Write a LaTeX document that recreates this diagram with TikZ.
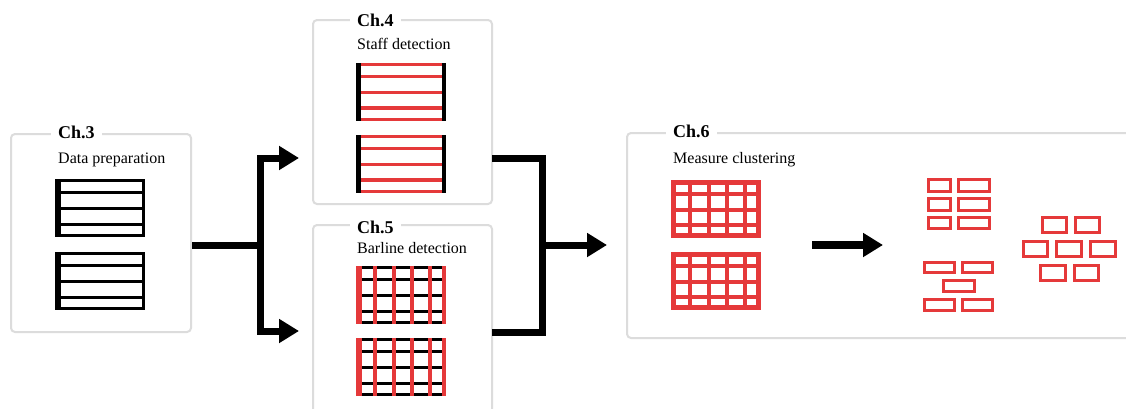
\documentclass[tikz,border=0pt]{standalone}
\usepackage{fontspec}
\setmainfont{Liberation Serif}
\usetikzlibrary{arrows.meta}
\definecolor{accent}{RGB}{229,57,58}
\definecolor{panelgray}{RGB}{220,220,220}
\tikzset{
  panel/.style={draw=panelgray, line width=2, rounded corners=4, inner sep=0, fill=none},
  chtitle/.style={anchor=base west, fill=white, inner xsep=7, inner ysep=2, font=\fontsize{18}{20}\selectfont\bfseries},
  chsub/.style={anchor=base west, inner sep=0, font=\fontsize{16}{18}\selectfont},
  conn/.style={line width=7, black},
  arr/.style={line width=7, black, -{Triangle[length=20pt,width=23pt]}},
  cell/.style={draw=accent, line width=3},
  staffblack/.pic={
    \foreach \yy in {1.5,13.5,29.5,45,56.5} \draw[line width=3] (0,\yy) -- (90,\yy);
    \fill (0,0) rectangle (6,58);
    \draw[line width=3] (88.5,0) -- (88.5,58);
  },
  staffred/.pic={
    \foreach \yy in {1.5,13.5,29.5,45,56.5} \draw[accent, line width=3.5] (0,\yy) -- (90,\yy);
    \fill (0,0) rectangle (5,58);
    \fill (86,0) rectangle (90,58);
  },
  barlinepic/.pic={
    \foreach \yy in {1.5,13.5,29.5,45,56.5} \draw[line width=3] (0,\yy) -- (90,\yy);
    \fill[accent] (0,0) rectangle (5.5,58);
    \foreach \xx in {19,38,56,74,88} \draw[accent, line width=4] (\xx,0) -- (\xx,58);
  },
  measurepic/.pic={
    \draw[accent, line width=5] (2.5,2.5) rectangle (87.5,55.5);
    \foreach \yy in {13.5,29.5,45} \draw[accent, line width=4] (0,\yy) -- (90,\yy);
    \foreach \xx in {19,38,56,74} \draw[accent, line width=4] (\xx,0) -- (\xx,58);
  }
}
\begin{document}
\begin{tikzpicture}[x=1pt,y=-1pt]
\useasboundingbox (0,0) rectangle (1126,408);
\clip (0,0) rectangle (1126,408);
\fill[white] (0,0) rectangle (1126,408);

% panels
\node[panel, minimum width=180, minimum height=198] (ch3) at (101,233) {};
\node[panel, minimum width=179, minimum height=184] (ch4) at (402.5,112) {};
\node[panel, minimum width=179, minimum height=220] (ch5) at (402.5,335) {};
\node[panel, minimum width=530, minimum height=205] (ch6) at (892,235.5) {};

% titles
\node[chtitle] (t3) at (51,138) {Ch.3};
\node[chsub] (s3) at (58,163) {Data preparation};
\node[chtitle] (t4) at (350,26) {Ch.4};
\node[chsub] (s4) at (357,49) {Staff detection};
\node[chtitle] (t5) at (350,233) {Ch.5};
\node[chsub] (s5) at (357,253) {Barline detection};
\node[chtitle] (t6) at (666,137) {Ch.6};
\node[chsub] (s6) at (673,163) {Measure clustering};

% glyphs
\pic at (55,179) {staffblack};
\pic at (55,252) {staffblack};
\pic at (356,63) {staffred};
\pic at (356,135) {staffred};
\pic at (356,266) {barlinepic};
\pic at (356,338) {barlinepic};
\pic at (671,180) {measurepic};
\pic at (671,252) {measurepic};

% clusters
\draw[cell] (928.5,179.5) rectangle (950.5,191.5);
\draw[cell] (958.5,179.5) rectangle (989.5,191.5);
\draw[cell] (928.5,198.5) rectangle (950.5,210.5);
\draw[cell] (958.5,198.5) rectangle (989.5,210.5);
\draw[cell] (928.5,217.5) rectangle (950.5,228.5);
\draw[cell] (958.5,217.5) rectangle (989.5,228.5);

\draw[cell] (924.5,262.5) rectangle (954.5,272.5);
\draw[cell] (962.5,262.5) rectangle (992.5,272.5);
\draw[cell] (943.5,280.5) rectangle (974.5,291.5);
\draw[cell] (924.5,299.5) rectangle (954.5,310.5);
\draw[cell] (962.5,299.5) rectangle (992.5,310.5);

\draw[cell] (1042.5,217.5) rectangle (1066.5,232.5);
\draw[cell] (1075.5,217.5) rectangle (1099.5,232.5);
\draw[cell] (1023.5,241.5) rectangle (1047.5,256.5);
\draw[cell] (1056.5,241.5) rectangle (1081.5,256.5);
\draw[cell] (1090.5,241.5) rectangle (1115.5,256.5);
\draw[cell] (1040.5,265.5) rectangle (1065.5,280.5);
\draw[cell] (1074.5,265.5) rectangle (1098.5,280.5);

% connectors
\coordinate (j1) at (260.5,245);
\coordinate (e4) at (299,158);
\coordinate (e5) at (299,331);
\coordinate (j2) at (542,245);
\coordinate (e6) at (607,245);
\coordinate (a4) at (492,158);
\coordinate (a5) at (492,332);
\coordinate (m1) at (812,245);
\coordinate (m2) at (883,245);

\draw[conn] (ch3.east |- j1) -- (j1);
\draw[arr] (j1) |- (e4);
\draw[arr] (j1) |- (e5);
\draw[conn] (a4) -| (j2) |- (a5);
\draw[arr] (j2) -- (e6);
\draw[line width=8, -{Triangle[length=20pt,width=23pt]}] (m1) -- (m2);
\end{tikzpicture}
\end{document}
